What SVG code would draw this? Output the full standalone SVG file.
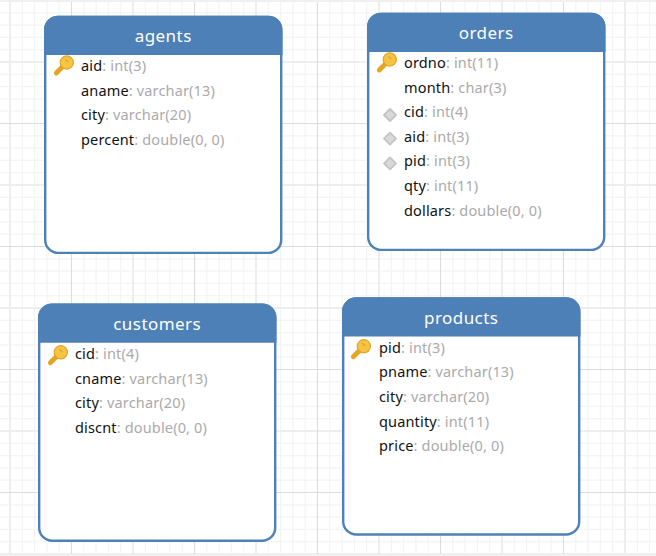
<svg xmlns="http://www.w3.org/2000/svg" xmlns:xlink="http://www.w3.org/1999/xlink" width="656" height="556" viewBox="0 0 656 556">
<style>
text{font-family:"Noto Sans","Open Sans","Liberation Sans",sans-serif}
.title{font-size:17px;fill:#fff;text-anchor:middle;letter-spacing:.45px}
.row{font-size:14.5px;fill:#111;letter-spacing:.16px}
.row tspan{fill:#aaa}
.minor{stroke:#f4f4f4;stroke-width:1.2;fill:none}
.thick{stroke:#eeeeee;stroke-width:2;fill:none}
.dark{stroke:#dcdcdc;stroke-width:1.1;fill:none}
</style>
<defs>
<pattern id="grid" patternUnits="userSpaceOnUse" x="10" y="62" width="123" height="123">
<path class="minor" d="M12.3 0V123M24.6 0V123M36.9 0V123M49.2 0V123M73.8 0V123M86.1 0V123M98.4 0V123M110.7 0V123M0 12.3H123M0 24.6H123M0 36.9H123M0 49.2H123M0 73.8H123M0 86.1H123M0 98.4H123M0 110.7H123"/>
<path class="thick" d="M0 0V123M123 0V123M0 0H123M0 123H123"/>
<path class="dark" d="M61.5 0V123M0 61.5H123"/>
</pattern>
<g id="box">
<rect x="1.2" y="1.2" width="236" height="236" rx="13" fill="#fff" stroke="#4d81b8" stroke-width="2.4"/>
<path d="M0 39.3V14A14 14 0 0 1 14 0H224.5A14 14 0 0 1 238.5 14V39.3Z" fill="#4d80b6"/>
</g>
<g id="key">
<path d="M-3 3L-10.5 10.5" stroke="#e6a520" stroke-width="4.8" stroke-linecap="round" fill="none"/>
<circle r="6.6" fill="#f6c443" stroke="#e2a526" stroke-width="1.2"/>
<path d="M-1.5 -3L1.5 -.5" stroke="#dca12c" stroke-width="1.2"/>
</g>
<path id="fk" d="M0 -6L6 0L0 6L-6 0Z" fill="#d9d9d9" stroke="#c4c4c4" stroke-width="1.8" stroke-linejoin="round"/>
</defs>
<rect width="656" height="556" fill="#fff"/>
<rect width="656" height="556" fill="url(#grid)"/>
<rect width="656" height="2" fill="#f0f0f0"/>
<rect y="554" width="656" height="2" fill="#f0f0f0"/>
<g id="connectors"/>
<g id="agents" transform="translate(44 15.7)">
<use xlink:href="#box" href="#box"/>
<text class="title" x="119.2" y="26">agents</text>
<use xlink:href="#key" href="#key" x="22.8" y="46.8"/>
<text class="row" x="37" y="55.5">aid<tspan>: int(3)</tspan></text>
<text class="row" x="37" y="80">aname<tspan>: varchar(13)</tspan></text>
<text class="row" x="37" y="104.5">city<tspan>: varchar(20)</tspan></text>
<text class="row" x="37" y="129">percent<tspan>: double(0, 0)</tspan></text>
</g>
<g id="orders" transform="translate(367 12.7)">
<use xlink:href="#box" href="#box"/>
<text class="title" x="119.2" y="26">orders</text>
<use xlink:href="#key" href="#key" x="22.8" y="46.8"/>
<use xlink:href="#fk" href="#fk" x="23" y="102.3"/>
<use xlink:href="#fk" href="#fk" x="23" y="126"/>
<use xlink:href="#fk" href="#fk" x="23" y="150.6"/>
<text class="row" x="37" y="55.5">ordno<tspan>: int(11)</tspan></text>
<text class="row" x="37" y="80">month<tspan>: char(3)</tspan></text>
<text class="row" x="37" y="104.5">cid<tspan>: int(4)</tspan></text>
<text class="row" x="37" y="129">aid<tspan>: int(3)</tspan></text>
<text class="row" x="37" y="153.5">pid<tspan>: int(3)</tspan></text>
<text class="row" x="37" y="178">qty<tspan>: int(11)</tspan></text>
<text class="row" x="37" y="203">dollars<tspan>: double(0, 0)</tspan></text>
</g>
<g id="customers" transform="translate(38 303.5)">
<use xlink:href="#box" href="#box"/>
<text class="title" x="119.2" y="26">customers</text>
<use xlink:href="#key" href="#key" x="22.8" y="48.8"/>
<text class="row" x="37" y="55.5">cid<tspan>: int(4)</tspan></text>
<text class="row" x="37" y="80">cname<tspan>: varchar(13)</tspan></text>
<text class="row" x="37" y="104.5">city<tspan>: varchar(20)</tspan></text>
<text class="row" x="37" y="129">discnt<tspan>: double(0, 0)</tspan></text>
</g>
<g id="products" transform="translate(342 297.3)">
<use xlink:href="#box" href="#box"/>
<text class="title" x="119.2" y="26.6">products</text>
<use xlink:href="#key" href="#key" x="21.8" y="49"/>
<text class="row" x="37" y="55.7">pid<tspan>: int(3)</tspan></text>
<text class="row" x="37" y="80.2">pname<tspan>: varchar(13)</tspan></text>
<text class="row" x="37" y="104.7">city<tspan>: varchar(20)</tspan></text>
<text class="row" x="37" y="129.5">quantity<tspan>: int(11)</tspan></text>
<text class="row" x="37" y="154.2">price<tspan>: double(0, 0)</tspan></text>
</g>
</svg>
